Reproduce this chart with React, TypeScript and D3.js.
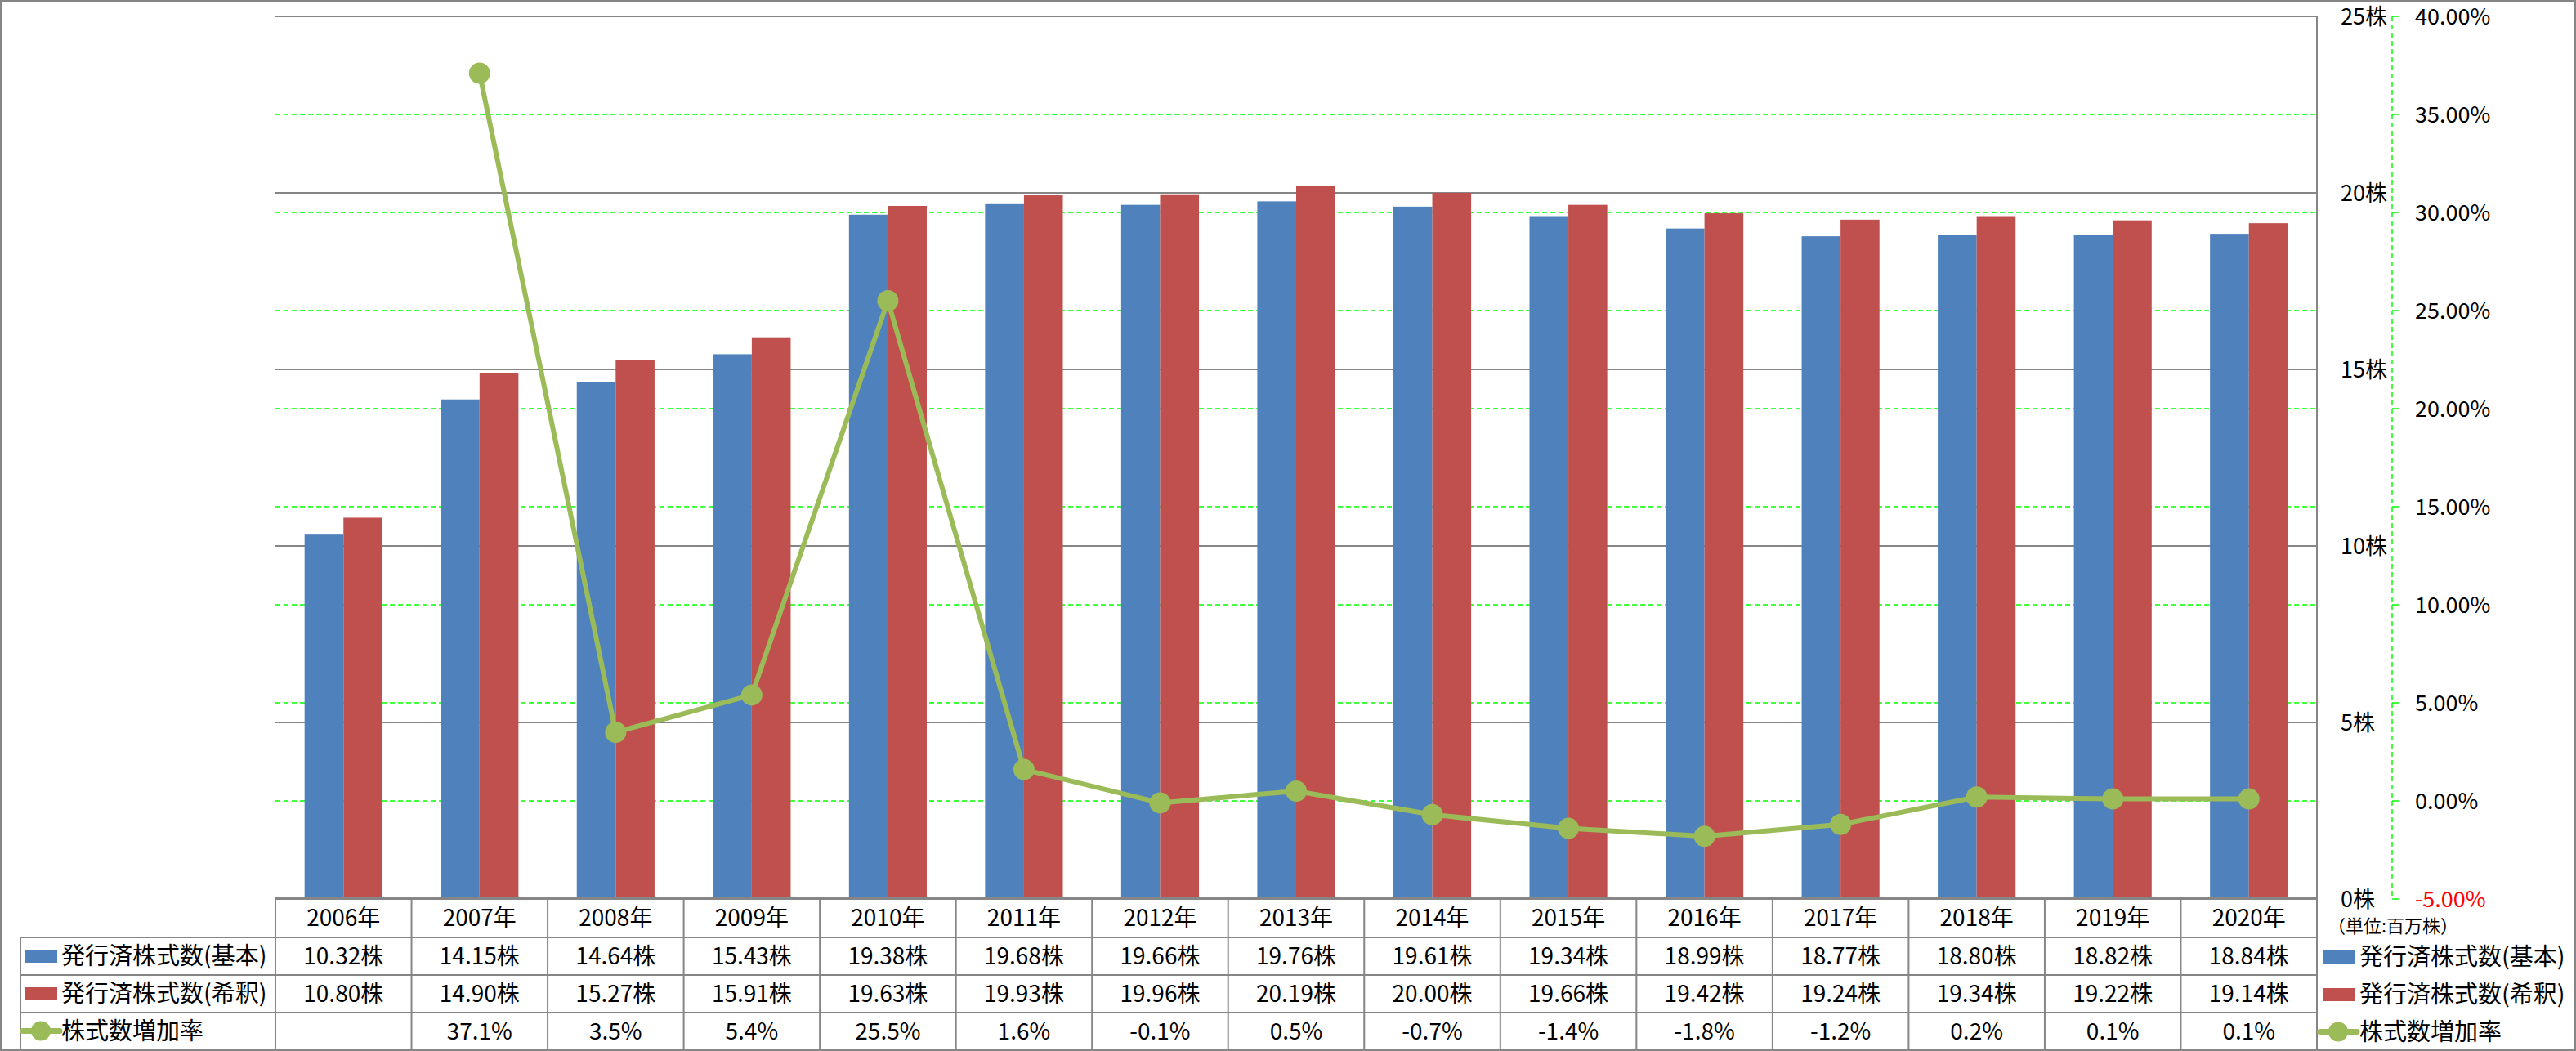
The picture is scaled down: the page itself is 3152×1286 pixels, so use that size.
import * as d3 from 'd3'
import React from 'react'

const years = ['2006年', '2007年', '2008年', '2009年', '2010年', '2011年', '2012年', '2013年', '2014年', '2015年', '2016年', '2017年', '2018年', '2019年', '2020年']
const basic = [10.32, 14.15, 14.64, 15.43, 19.38, 19.68, 19.66, 19.76, 19.61, 19.34, 18.99, 18.77, 18.80, 18.82, 18.84]
const diluted = [10.80, 14.90, 15.27, 15.91, 19.63, 19.93, 19.96, 20.19, 20.00, 19.66, 19.42, 19.24, 19.34, 19.22, 19.14]
const growth: (number | null)[] = [null, 37.1, 3.5, 5.4, 25.5, 1.6, -0.1, 0.5, -0.7, -1.4, -1.8, -1.2, 0.2, 0.1, 0.1]
const leftTicks = [0, 5, 10, 15, 20, 25]
const rightTicks = [-5, 0, 5, 10, 15, 20, 25, 30, 35, 40]
const seriesNames = ['発行済株式数(基本)', '発行済株式数(希釈)', '株式数増加率']
const unitLabel = '（単位:百万株）'

const W = 3152, H = 1286
const BLUE = '#4F81BD', RED = '#C0504D', GREEN = '#9BBB59', GRAY = '#868686', DASH = '#00FF00'
const FONT = '"Noto Sans CJK JP", "Noto Sans", sans-serif'

const plot = { left: 337, right: 2835, top: 20, bottom: 1100 }
const rowH = [1099, 1147, 1193, 1239, 1284]

const Cell = ({ x, y, children }: { x: number, y: number, children: React.ReactNode }) => (
  <text x={x} y={y} textAnchor='middle' dy='0.36em' fontSize={28} fontFamily={FONT} fill='#000'>{children}</text>
)

const LegendKey = ({ x, y, i }: { x: number, y: number, i: number }) => (
  i < 2
    ? <rect x={x + 3} y={y - 8} width={39} height={16} fill={i === 0 ? BLUE : RED} />
    : <g>
      <line x1={x} x2={x + 45} y1={y} y2={y} stroke={GREEN} strokeWidth={7} strokeLinecap='round' />
      <circle cx={x + 22} cy={y} r={12} fill={GREEN} />
    </g>
)

export default function App() {
  React.useEffect(() => { document.body.style.margin = '0' }, [])

  const
    x = d3.scaleBand().domain(years).range([plot.left, plot.right]),
    sub = d3.scaleBand().domain(['basic', 'diluted']).range([0, x.bandwidth()]).paddingOuter(0.75),
    yL = d3.scaleLinear().domain([0, 25]).range([plot.bottom, plot.top]),
    yR = d3.scaleLinear().domain([-5, 40]).range([plot.bottom, plot.top]),
    cx = (d: string) => (x(d) as number) + x.bandwidth() / 2,
    pts = years.map((d, i) => ({ d, v: growth[i] })).filter(p => p.v !== null) as { d: string, v: number }[],
    line = d3.line<{ d: string, v: number }>().x(p => cx(p.d)).y(p => yR(p.v))(pts) as string,
    axisX = 2927,
    rowMid = (r: number) => (rowH[r] + rowH[r + 1]) / 2

  return (
    <svg width={W} height={H} style={{ display: 'block' }}>
      <rect x={0} y={0} width={W} height={H} fill='#fff' />

      {/* gridlines */}
      {rightTicks.map(t => (
        <line key={'r' + t} x1={plot.left} x2={plot.right} y1={yR(t)} y2={yR(t)} stroke={DASH} strokeWidth={1.5} strokeDasharray='6,4' />
      ))}
      {leftTicks.map(t => (
        <line key={'l' + t} x1={plot.left} x2={plot.right} y1={yL(t)} y2={yL(t)} stroke={GRAY} strokeWidth={2} />
      ))}

      {/* bars */}
      {years.map((d, i) => (
        <g key={d} transform={`translate(${x(d)},0)`}>
          <rect x={sub('basic')} y={yL(basic[i])} width={sub.bandwidth()} height={yL(0) - yL(basic[i])} fill={BLUE} />
          <rect x={sub('diluted')} y={yL(diluted[i])} width={sub.bandwidth()} height={yL(0) - yL(diluted[i])} fill={RED} />
        </g>
      ))}

      {/* growth line */}
      <path d={line} fill='none' stroke={GREEN} strokeWidth={6} strokeLinejoin='round' />
      {pts.map(p => <circle key={p.d} cx={cx(p.d)} cy={yR(p.v)} r={13} fill={GREEN} />)}

      {/* primary axis (right side) */}
      <line x1={plot.right} x2={plot.right} y1={plot.top} y2={rowH[4]} stroke={GRAY} strokeWidth={2} />
      {leftTicks.map(t => (
        <text key={'lt' + t} x={2864} y={yL(t)} dy='0.36em' fontSize={27} fontFamily={FONT}>{`${t}株`}</text>
      ))}

      {/* secondary axis */}
      <line x1={axisX} x2={axisX} y1={plot.top} y2={plot.bottom} stroke={DASH} strokeWidth={1.5} strokeDasharray='6,4' />
      {rightTicks.map(t => (
        <g key={'rt' + t}>
          <line x1={axisX} x2={axisX + 8} y1={yR(t)} y2={yR(t)} stroke={DASH} strokeWidth={1.5} />
          <text x={2955} y={yR(t)} dy='0.36em' fontSize={27} fontFamily={FONT} fill={t < 0 ? '#FF0000' : '#000'}>{`${t.toFixed(2)}%`}</text>
        </g>
      ))}
      <text x={2848} y={1133} dy='0.36em' fontSize={22} fontFamily={FONT}>{unitLabel}</text>

      {/* data table */}
      <line x1={plot.left} x2={plot.right} y1={rowH[0]} y2={rowH[0]} stroke={GRAY} strokeWidth={2} />
      {[1, 2, 3, 4].map(r => (
        <line key={'h' + r} x1={25} x2={plot.right} y1={rowH[r]} y2={rowH[r]} stroke={GRAY} strokeWidth={2} />
      ))}
      <line x1={25} x2={25} y1={rowH[1]} y2={rowH[4]} stroke={GRAY} strokeWidth={2} />
      {years.map(d => (
        <line key={'v' + d} x1={x(d)} x2={x(d)} y1={rowH[0]} y2={rowH[4]} stroke={GRAY} strokeWidth={2} />
      ))}
      {years.map((d, i) => (
        <g key={'t' + d}>
          <Cell x={cx(d)} y={rowMid(0)}>{d}</Cell>
          <Cell x={cx(d)} y={rowMid(1)}>{`${basic[i].toFixed(2)}株`}</Cell>
          <Cell x={cx(d)} y={rowMid(2)}>{`${diluted[i].toFixed(2)}株`}</Cell>
          {growth[i] !== null && <Cell x={cx(d)} y={rowMid(3)}>{`${(growth[i] as number).toFixed(1)}%`}</Cell>}
        </g>
      ))}

      {/* legend keys in table + right legend */}
      {seriesNames.map((n, i) => (
        <g key={n}>
          <LegendKey x={28} y={rowMid(i + 1)} i={i} />
          <text x={75} y={rowMid(i + 1)} dy='0.36em' fontSize={29} fontFamily={FONT}>{n}</text>
          <LegendKey x={2839} y={rowMid(i + 1) + 1} i={i} />
          <text x={2887} y={rowMid(i + 1) + 1} dy='0.36em' fontSize={29} fontFamily={FONT}>{n}</text>
        </g>
      ))}

      {/* outer border */}
      <rect x={1.5} y={1.5} width={W - 3} height={H - 3} fill='none' stroke={GRAY} strokeWidth={3} />
    </svg>
  )
}
